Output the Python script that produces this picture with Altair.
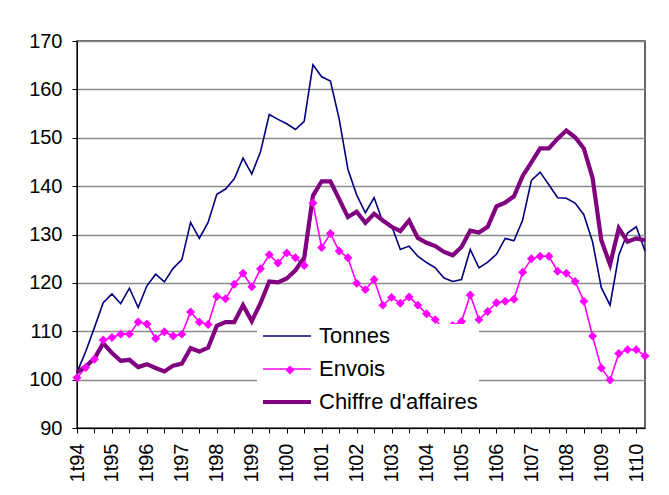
import altair as alt
import pandas as pd

years = ["94", "95", "96", "97", "98", "99", "00", "01", "02", "03", "04",
         "05", "06", "07", "08", "09", "10"]
quarters = [f"{q}t{y}" for y in years for q in range(1, 5)][:66]

series_names = ["Tonnes", "Envois", "Chiffre d'affaires"]
series_colors = ["#000080", "#FF00FF", "#800080"]
series_widths = [1.6, 1.6, 4.2]

tonnes = [101.5, 105.8, 110.8, 115.9, 117.7, 115.7, 118.9, 114.9, 119.4, 121.8,
          120.2, 123.0, 124.8, 132.5, 129.2, 132.5, 138.3, 139.4, 141.5, 145.8,
          142.5, 147.1, 154.8, 153.8, 152.9, 151.7, 153.4, 165.1, 162.6, 161.7,
          153.9, 143.5, 138.2, 134.5, 137.6, 132.6, 131.8, 126.9, 127.6, 125.5,
          124.2, 123.1, 121.0, 120.3, 120.7, 126.9, 123.1, 124.3, 125.9, 129.2,
          128.7, 133.0, 141.2, 142.9, 140.3, 137.6, 137.5, 136.5, 134.1, 128.5,
          119.0, 115.4, 125.7, 130.3, 131.6, 126.6]

envois = [100.4, 102.5, 104.2, 108.2, 108.7, 109.4, 109.4, 111.9, 111.5, 108.5,
          109.9, 109.0, 109.4, 114.0, 111.9, 111.4, 117.2, 116.7, 119.7, 122.0,
          119.2, 122.9, 125.8, 124.1, 126.2, 125.2, 123.6, 136.5, 127.3, 130.2,
          126.6, 125.2, 119.9, 118.6, 120.7, 115.4, 117.0, 115.8, 117.1, 115.4,
          113.6, 112.4, 110.2, 111.2, 112.0, 117.5, 112.4, 114.1, 115.9, 116.2,
          116.6, 122.2, 125.0, 125.5, 125.5, 122.4, 122.0, 120.3, 116.2, 109.0,
          102.4, 99.9, 105.4, 106.2, 106.2, 104.9]

chiffre = [101.5, 102.7, 104.4, 107.5, 105.5, 103.9, 104.1, 102.6, 103.2, 102.4,
           101.7, 102.9, 103.3, 106.5, 105.8, 106.6, 111.1, 111.9, 111.9, 115.4,
           112.1, 115.8, 120.3, 120.1, 120.9, 122.6, 125.2, 138.0, 141.0, 141.0,
           137.3, 133.6, 134.7, 132.4, 134.3, 132.9, 131.6, 130.7, 132.9, 129.3,
           128.3, 127.6, 126.4, 125.7, 127.4, 130.8, 130.4, 131.6, 135.8, 136.6,
           137.9, 142.1, 144.9, 147.8, 147.8, 149.8, 151.5, 150.1, 147.8, 141.7,
           128.8, 123.8, 131.3, 128.5, 129.2, 128.8]

frames = []
for name, vals in zip(series_names, [tonnes, envois, chiffre]):
    frames.append(pd.DataFrame({"quarter": quarters, "series": name, "value": vals}))
df = pd.concat(frames, ignore_index=True)

FONT = "Liberation Sans"

x_enc = alt.X(
    "quarter:O",
    sort=quarters,
    scale=alt.Scale(type="point", padding=0),
    axis=alt.Axis(
        title=None,
        values=quarters[::2],
        labelExpr="indexof(datum.value, '1t') == 0 ? datum.value : ''",
        labelAngle=-90,
        labelFontSize=20,
        labelPadding=10,
        labelOverlap=False,
        tickSize=5,
        tickColor="black",
        domainColor="black",
        labelColor="black",
        grid=False,
    ),
)

y_enc = alt.Y(
    "value:Q",
    scale=alt.Scale(domain=[90, 170], nice=False, zero=False),
    axis=alt.Axis(
        title=None,
        values=list(range(90, 171, 10)),
        tickSize=5,
        labelFontSize=20,
        labelPadding=10,
        tickColor="black",
        domainColor="black",
        labelColor="black",
        gridColor="#8c8c8c",
        gridWidth=1.6,
    ),
)

main_legend = alt.Legend(
    title=None,
    orient="none",
    legendX=180,
    legendY=283,
    symbolType="M-6,0H6",
    symbolSize=64,
    symbolOffset=18,
    labelOffset=21,
    labelFontSize=22,
    labelFont=FONT,
    labelColor="black",
    fillColor="white",
    padding=1,
    rowPadding=11,
)

lines = alt.Chart(df).mark_line().encode(
    x=x_enc,
    y=y_enc,
    color=alt.Color("series:N",
                    scale=alt.Scale(domain=series_names, range=series_colors),
                    legend=main_legend),
    strokeWidth=alt.StrokeWidth("series:N",
                                scale=alt.Scale(type="ordinal", domain=series_names,
                                                range=series_widths),
                                legend=main_legend),
)

points = alt.Chart(df).transform_filter(
    alt.datum.series == "Envois"
).mark_point(filled=True, color="#FF00FF", size=80, opacity=1).encode(
    x=x_enc,
    y=y_enc,
    shape=alt.Shape("series:N",
                    scale=alt.Scale(domain=["Envois"], range=["diamond"]),
                    legend=alt.Legend(
                        title=None,
                        orient="none",
                        legendX=208,
                        legendY=324,
                        symbolSize=80,
                        symbolFillColor="#FF00FF",
                        symbolStrokeColor="#FF00FF",
                        symbolStrokeWidth=0,
                        symbolOpacity=1,
                        labelExpr="''",
                        labelFontSize=10,
                        padding=0,
                    )),
)

chart = alt.layer(lines, points).properties(
    width=568,
    height=387,
    padding={"left": 69, "top": 33, "right": 10, "bottom": 64},
    autosize=alt.AutoSizeParams(type="none"),
).configure(
    font=FONT,
).configure_view(
    stroke="#333333",
    strokeWidth=1.5,
)

chart.save("out.html", embed_options={"renderer": "svg", "actions": False})
